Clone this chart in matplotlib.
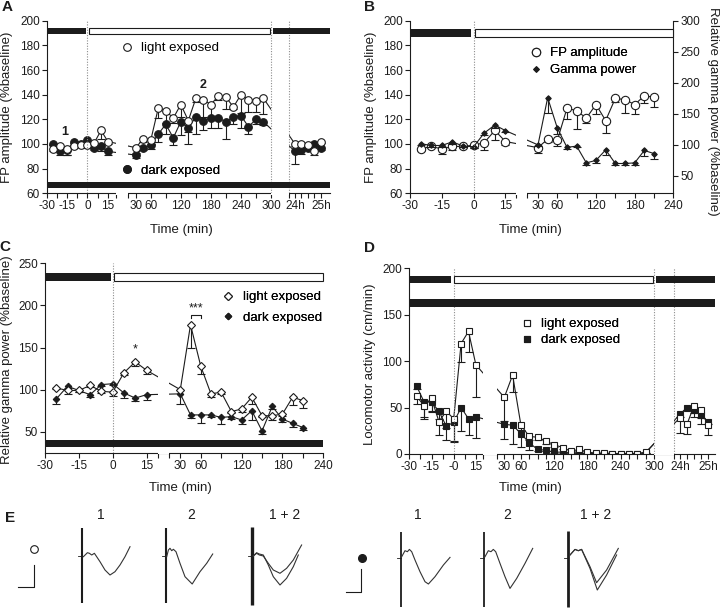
import matplotlib
matplotlib.use("Agg")
import matplotlib.pyplot as plt
import matplotlib.transforms as mtransforms
import numpy as np
from matplotlib.lines import Line2D
from matplotlib.patches import Rectangle

plt.rcParams["font.family"] = ["Liberation Sans", "DejaVu Sans"]

W, H = 720, 608
INK = "#1c1c1c"
GREY = "#8c8c8c"

# ---------------------------------------------------------------- data
# time in minutes, 24h / 25h written as 1440 / 1500
PRE_T = [-25, -20, -15, -10, -5, 0, 5, 10, 15]
POST_T = [30, 45, 60, 75, 90, 105, 120, 135, 150, 165, 180, 195, 210, 225, 240, 255, 270, 285]
POST_T_SHORT = [30, 45, 60, 75, 90, 105, 120, 135, 150, 165, 180, 195, 210]
DAY_T = [1440, 1455, 1470, 1485, 1500]

A_T = PRE_T + POST_T + DAY_T
A_LIGHT = [96, 98, 96, 98, 99, 99, 101, 111, 102,
           97, 104, 103, 129, 127, 121, 132, 119, 137, 136, 132, 139, 138, 130, 140, 136, 135, 137,
           100, 100, 99, 94, 102]
A_LIGHT_ERR = [2, 1, 5, 1, 1, 2, 2, 7, 2,
               4, 2, 3, 8, 10, 4, 10, 9, 3, 14, 10, 3, 10, 2, 15, 10, 9, 13,
               2, 2, 1, 3, 1]
A_DARK = [100, 94, 95, 102, 100, 103, 97, 98, 94,
          91, 97, 99, 108, 116, 105, 118, 113, 122, 119, 121, 121, 118, 122, 123, 114, 120, 118,
          94, 95, 97, 100, 97]
A_DARK_ERR = [1, 3, 4, 1, 1, 1, 2, 4, 3,
              2, 2, 3, 6, 8, 6, 11, 13, 14, 8, 8, 8, 14, 6, 10, 6, 4, 3,
              10, 3, 2, 1, 2]

B_T = PRE_T + POST_T_SHORT
B_FP = [96, 98, 96, 98, 98, 99, 101, 111, 102,
        97, 104, 103, 129, 127, 121, 132, 119, 137, 136, 132, 139, 138]
B_FP_ERR = [2, 1, 4, 3, 1, 2, 6, 8, 3,
            4, 2, 5, 9, 15, 4, 8, 10, 3, 11, 8, 6, 8]
B_GAMMA = [102, 99, 99, 105, 98, 97, 119, 132, 123,
           100, 176, 127, 96, 98, 71, 75, 92, 70, 70, 71, 91, 86]
B_GAMMA_ERR = [2, 2, 2, 3, 2, 2, 3, 5, 3,
               2, 25, 10, 3, 2, 3, 4, 8, 3, 3, 3, 9, 8]

C_T = PRE_T + POST_T_SHORT
C_LIGHT = [102, 99, 99, 105, 98, 97, 120, 133, 123,
           100, 177, 128, 95, 97, 74, 77, 91, 69, 69, 71, 91, 87]
C_LIGHT_ERR = [1, 4, 2, 2, 2, 5, 3, 5, 5,
               1, 27, 10, 4, 2, 2, 3, 8, 2, 5, 2, 9, 9]
C_DARK = [89, 104, 99, 94, 106, 107, 96, 90, 94,
          95, 70, 70, 70, 67, 68, 64, 75, 51, 80, 65, 60, 55]
C_DARK_ERR = [6, 2, 2, 3, 2, 2, 6, 4, 6,
              12, 4, 10, 3, 8, 3, 5, 11, 4, 3, 4, 4, 3]

D_T = PRE_T + POST_T + DAY_T
D_LIGHT = [62, 52, 60, 35, 46, 38, 119, 132, 96,
           61, 85, 31, 19, 18, 14, 10, 7, 3, 5, 2, 1, 1, 0.5, 0.5, 0.5, 0.5, 2,
           39, 32, 52, 47, 31]
D_LIGHT_ERR = [8, 14, 15, 14, 18, 25, 20, 22, 35,
               25, 18, 5, 4, 3, 3, 2, 2, 1, 2, 1, 1, 1, 0, 0, 0, 0, 1,
               16, 10, 12, 15, 11]
D_DARK = [73, 56, 56, 46, 30, 34, 50, 38, 40,
          32, 31, 22, 12, 5, 4, 2, 2, 1, 1, 0.5, 0.5, 0.5, 0.5, 0.5, 0.5, 0.5, 1,
          43, 50, 47, 42, 35]
D_DARK_ERR = [3, 16, 10, 8, 15, 20, 25, 17, 23,
              16, 20, 14, 8, 2, 1, 1, 1, 0, 0, 0, 0, 0, 0, 0, 0, 0, 0,
              3, 3, 3, 3, 3]

# example field-potential traces (offsets from stimulus, px-like units)
L1_X = [1.7, 5.7, 7.7, 10, 12.7, 18.3, 23.3, 28.3, 33.3, 38.3, 43.3, 48.3]
L1_Y = [0.7, -3.3, -2.7, -1, -2.7, 5.7, 14, 19, 15.7, 9, 0.7, -9.3]
L2_X = [1, 2.7, 4.3, 6, 7.7, 10.3, 14.3, 19.3, 26.5, 34.3, 41, 47]
L2_Y = [0.7, -6, -7.7, -5.3, -6.7, -4.3, 7.3, 20.7, 28, 15.7, 7.3, -2]
L12A_X = [1, 4.3, 7, 11, 16, 21, 27.7, 34.3, 41, 49.3]
L12A_Y = [0, -2.7, -1, 0, 7.3, 14, 17.3, 12.3, 4, -11]
L12B_X = [1, 4.3, 7, 11, 16, 21, 27.7, 34.3, 41, 46]
L12B_Y = [0, -3.3, -2, -1, 9, 20.7, 29, 22.3, 10.7, -1]
R1_X = [1, 4.3, 6.7, 8.7, 11, 14.3, 19.3, 24.3, 27.7, 34.3, 42.7, 49.3]
R1_Y = [-1, -7, -6, -8.3, -6, 2.3, 14, 24, 26.3, 19, 7.3, -0.3]
R2_X = [1, 4.3, 7, 9.3, 11.7, 16, 21, 26, 32.7, 41, 48.7]
R2_Y = [-1, -7, -6, -8.3, -6, 5.7, 19, 30.7, 20.7, 5.7, -9.3]
R12A_X = [1.7, 6.7, 10, 13.3, 21.7, 28.3, 38.3, 50]
R12A_Y = [-2.7, -8.3, -7, -8.3, 9, 25, 12.3, -9.3]
R12B_X = [1.7, 6.7, 10, 13.3, 21.7, 29, 38.3, 48.3]
R12B_Y = [-2.7, -8.3, -7, -8.3, 10.7, 32.3, 17.3, -2.7]

fig = plt.figure(figsize=(W / 100, H / 100), dpi=100)


def px_axes(x0, y0, x1, y1):
    return fig.add_axes([x0 / W, 1 - y1 / H, (x1 - x0) / W, (y1 - y0) / H])


def broken_x(ax, knots_t, knots_u):
    kt = np.asarray(knots_t, float)
    ku = np.asarray(knots_u, float)
    ax.set_xscale("function", functions=(lambda t: np.interp(t, kt, ku),
                                         lambda u: np.interp(u, ku, kt)))
    ax.set_xlim(kt[0], kt[-1])


def style(ax):
    ax.patch.set_visible(False)
    for side, spine in ax.spines.items():
        spine.set_visible(side in ("left", "bottom"))
        spine.set_color(INK)
        spine.set_linewidth(0.8)
    ax.tick_params(which="both", direction="out", length=3.5, width=0.8, color=INK,
                   labelsize=8.5, labelcolor=INK, pad=1.5)


def series(ax, t, y, err, marker, face, ms, z):
    t = np.asarray(t, float)
    y = np.asarray(y, float)
    err = np.asarray(err, float)
    ax.vlines(t, y - err, y, color=INK, lw=0.8, zorder=z - 0.2)
    ax.plot(t, y - err, ls="none", marker="_", ms=6, mew=0.8, color=INK, zorder=z - 0.2)
    ax.plot(t, y, color=INK, lw=0.8, marker=marker, ms=ms, mfc=face, mec=INK, mew=0.8, zorder=z)


def gap(ax, t0, t1):
    tr = mtransforms.blended_transform_factory(ax.transData, ax.transAxes)
    ax.add_patch(Rectangle((t0, -0.008), t1 - t0, 1.008, transform=tr, fc="white",
                           ec="none", zorder=3, clip_on=False))


def vdot(ax, t):
    ax.axvline(t, color=GREY, lw=0.8, ls=(0, (1, 1.4)), zorder=3.5)


def cond_bar(ax, t0, t1, y0, y1, dark, trim_l=0.0, trim_r=0.0, yax=None):
    yax = yax or ax
    xd = ax.transData.transform([(t0, 1.0), (t1, 1.0)])[:, 0]
    inv = ax.transData.inverted()
    ta = inv.transform((xd[0] + trim_l, 0))[0]
    tb = inv.transform((xd[1] - trim_r, 0))[0]
    tr = mtransforms.blended_transform_factory(ax.transData, yax.transData)
    ax.add_patch(Rectangle((ta, y0), tb - ta, y1 - y0, transform=tr,
                           fc=INK if dark else "white", ec=INK, lw=0 if dark else 0.8,
                           zorder=4, clip_on=False))


def legend_at(ax, handles, labels, x_px, y_px, spacing=0.4):
    leg = ax.legend(handles, labels, loc="center left",
                    bbox_to_anchor=(x_px / W, 1 - y_px / H), bbox_transform=fig.transFigure,
                    frameon=False, fontsize=9.5, handlelength=1.0, handletextpad=0.6,
                    borderpad=0, borderaxespad=0, labelspacing=spacing)
    ax.add_artist(leg)


def handle(marker, face, ms):
    return Line2D([], [], ls="none", marker=marker, ms=ms, mfc=face, mec=INK, mew=0.8)


def fig_text(x, y, s, **kw):
    fig.text(x / W, 1 - y / H, s, color=INK, **kw)


# ---------------------------------------------------------------- A
A_KT = [-30, 21, 21.01, 30, 300, 300.01, 1440, 1520]
A_KU = [46.7, 116, 128.2, 135.7, 271, 289.3, 295, 329.5]
axA = px_axes(A_KU[0], 20.7, A_KU[-1], 193.3)
broken_x(axA, A_KT, A_KU)
axA.set_ylim(60, 200)
style(axA)
axA.set_yticks(range(60, 201, 20))
axA.set_xticks([-30, -15, 0, 15, 30, 60, 120, 180, 240, 300, 1440, 1500],
               labels=["-30", "-15", "0", "15", "30", "60", "120", "180", "240", "300", "24h", "25h"])
axA.set_xticks([-22.5, -7.5, 7.5, 21, 21.01, 90, 150, 210, 270, 300.01, 1455, 1470, 1485], minor=True)
series(axA, A_T, A_DARK, A_DARK_ERR, "o", INK, 5.5, 2.0)
series(axA, A_T, A_LIGHT, A_LIGHT_ERR, "o", "white", 5.5, 2.2)
gap(axA, 21, 21.01)
gap(axA, 300, 300.01)
for t in (0, 300, 300.01):
    vdot(axA, t)
cond_bar(axA, -30, 0, 189, 194.3, True, trim_r=1.5)
cond_bar(axA, 0, 300, 189, 194.3, False, trim_l=1.5, trim_r=1.0)
cond_bar(axA, 300, 1520, 189, 194.3, True, trim_l=2.0)
cond_bar(axA, -30, 1520, 64, 69.4, True)
axA.text(-16.4, 110, "1", fontsize=9, fontweight="bold", ha="center", va="center", color=INK)
axA.text(164, 148, "2", fontsize=9, fontweight="bold", ha="center", va="center", color=INK)
legend_at(axA, [handle("o", "white", 5.5)], ["light exposed"], 120.1, 48.3)
legend_at(axA, [handle("o", INK, 5.5)], ["dark exposed"], 120.1, 170.7)
fig_text(7.5, 107, "FP amplitude (%baseline)", rotation=90, ha="center", va="center", fontsize=9.5)
fig_text(181.7, 230, "Time (min)", ha="center", va="center", fontsize=9.5)
fig_text(6.7, 6.7, "A", ha="center", va="center", fontsize=11, fontweight="bold")

# ---------------------------------------------------------------- B
B_KT = [-30, 20, 20.01, 30, 240]
B_KU = [410, 516, 526.7, 538, 673.3]
axB = px_axes(B_KU[0], 20.7, B_KU[-1], 193.3)
broken_x(axB, B_KT, B_KU)
axB.set_ylim(60, 200)
style(axB)
axB.set_yticks(range(60, 201, 20))
axB.set_xticks([-30, -15, 0, 15, 30, 60, 120, 180, 240],
               labels=["-30", "-15", "0", "15", "30", "60", "120", "180", "240"])
axB.set_xticks([20, 20.01, 90, 150, 210], minor=True)
axB2 = axB.twinx()
axB2.set_ylim(22, 300)
style(axB2)
axB2.spines["left"].set_visible(False)
axB2.spines["bottom"].set_visible(False)
axB2.spines["right"].set_visible(True)
axB2.set_yticks(range(50, 301, 50))
series(axB, B_T, B_FP, B_FP_ERR, "o", "white", 6.0, 2.2)
series(axB2, B_T, B_GAMMA, B_GAMMA_ERR, "D", INK, 2.8, 2.0)
gap(axB2, 20, 20.01)
vdot(axB2, 0)
cond_bar(axB2, -30, 0, 187, 193, True, trim_r=2.5, yax=axB)
cond_bar(axB2, 0, 240, 187, 193, False, trim_l=1.0, yax=axB)
legend_at(axB2, [handle("o", "white", 6.0), handle("D", INK, 2.8)],
          ["FP amplitude", "Gamma power"], 529.1, 61.7, spacing=0.36)
fig_text(371, 107, "FP amplitude (%baseline)", rotation=90, ha="center", va="center", fontsize=9.5)
fig_text(713, 111.7, "Relative gamma power (%baseline)", rotation=270, ha="center", va="center", fontsize=9.5)
fig_text(530, 230, "Time (min)", ha="center", va="center", fontsize=9.5)
fig_text(370, 6.7, "B", ha="center", va="center", fontsize=11, fontweight="bold")

# ---------------------------------------------------------------- C
C_KT = [-30, 20, 20.01, 30, 240]
C_KU = [45, 157.8, 169.3, 180.3, 323.3]
axC = px_axes(C_KU[0], 263.3, C_KU[-1], 452.8)
broken_x(axC, C_KT, C_KU)
axC.set_ylim(25, 250)
style(axC)
axC.set_yticks(range(50, 251, 50))
axC.set_xticks([-30, -15, 0, 15, 30, 60, 120, 180, 240],
               labels=["-30", "-15", "0", "15", "30", "60", "120", "180", "240"])
axC.set_xticks([20, 20.01, 90, 150, 210], minor=True)
series(axC, C_T, C_DARK, C_DARK_ERR, "D", INK, 3.3, 2.0)
series(axC, C_T, C_LIGHT, C_LIGHT_ERR, "D", "white", 3.7, 2.2)
gap(axC, 20, 20.01)
vdot(axC, 0)
cond_bar(axC, -30, 0, 229, 238, True, trim_r=1.7)
cond_bar(axC, 0, 240, 229, 238, False, trim_l=1.6, trim_r=-0.7)
cond_bar(axC, -30, 240, 32, 40, True, trim_r=-1.7)
axC.text(10, 148, "*", fontsize=9, ha="center", va="center", color=INK)
axC.text(52.5, 196, "***", fontsize=9, ha="center", va="center", color=INK)
axC.plot([45, 45, 60, 60], [185.5, 189, 189, 185.5], color=INK, lw=0.8, zorder=4)
legend_at(axC, [handle("D", "white", 3.7), handle("D", INK, 3.3)],
          ["light exposed", "dark exposed"], 221.7, 307.4, spacing=0.6)
fig_text(6.7, 360, "Relative gamma power (%baseline)", rotation=90, ha="center", va="center", fontsize=9.5)
fig_text(180, 488, "Time (min)", ha="center", va="center", fontsize=9.5)
fig_text(5, 246.7, "C", ha="center", va="center", fontsize=11, fontweight="bold")

# ---------------------------------------------------------------- D
D_KT = [-30, 20, 20.01, 30, 300, 300.01, 1440, 1515]
D_KU = [409.3, 483.3, 496.7, 504.3, 654, 674, 680, 715]
axD = px_axes(D_KU[0], 268.3, D_KU[-1], 454)
broken_x(axD, D_KT, D_KU)
axD.set_ylim(0, 200)
style(axD)
axD.set_yticks(range(0, 201, 50))
axD.set_xticks([-30, -15, 0, 15, 30, 60, 120, 180, 240, 300, 1440, 1500],
               labels=["-30", "-15", "-0", "15", "30", "60", "120", "180", "240", "300", "24h", "25h"])
axD.set_xticks([-22.5, -7.5, 7.5, 20, 20.01, 45, 75, 90, 105, 135, 150, 165, 195, 210, 225,
                255, 270, 285, 300.01, 1455, 1470, 1485], minor=True)
series(axD, D_T, D_DARK, D_DARK_ERR, "s", INK, 4.2, 2.0)
series(axD, D_T, D_LIGHT, D_LIGHT_ERR, "s", "white", 4.6, 2.2)
gap(axD, 20, 20.01)
gap(axD, 300, 300.01)
for t in (0, 300, 300.01):
    vdot(axD, t)
cond_bar(axD, -30, 0, 183.8, 191.7, True, trim_r=2.3)
cond_bar(axD, 0, 300, 183.8, 191.7, False, trim_l=0.3, trim_r=1.3)
cond_bar(axD, 300, 1515, 183.8, 191.7, True, trim_l=2.0)
cond_bar(axD, -30, 1515, 158.4, 166.4, True)
legend_at(axD, [handle("s", "white", 4.6), handle("s", INK, 4.2)],
          ["light exposed", "dark exposed"], 520.1, 332.2, spacing=0.29)
fig_text(370, 364, "Locomotor activity (cm/min)", rotation=90, ha="center", va="center", fontsize=9.5)
fig_text(530, 488, "Time (min)", ha="center", va="center", fontsize=9.5)
fig_text(370, 248.3, "D", ha="center", va="center", fontsize=11, fontweight="bold")

# ---------------------------------------------------------------- E
axE = px_axes(0, 500, 720, 608)
axE.set_xlim(0, 720)
axE.set_ylim(608, 500)
axE.axis("off")

E_ORIGIN_X = [81.7, 165.7, 252.3, 400.7, 484, 568.3]
E_ORIGIN_Y = [556, 556, 556, 557.7, 557.7, 557.7]
E_ART_TOP = [-27.7, -27.7, -29, -25.7, -25.7, -27]
E_ART_BOT = [47, 47, 49, 49.3, 49.3, 49.3]
E_ART_LW = [1.5, 1.5, 2.4, 1.3, 1.3, 2.0]
E_WAVES = [[(L1_X, L1_Y)], [(L2_X, L2_Y)], [(L12A_X, L12A_Y), (L12B_X, L12B_Y)],
           [(R1_X, R1_Y)], [(R2_X, R2_Y)], [(R12A_X, R12A_Y), (R12B_X, R12B_Y)]]

for x0, y0, top, bot, lw, waves in zip(E_ORIGIN_X, E_ORIGIN_Y, E_ART_TOP, E_ART_BOT, E_ART_LW, E_WAVES):
    axE.plot([x0, x0], [y0 + top, y0 + bot], color=INK, lw=lw, solid_capstyle="butt")
    axE.plot([x0 - 4, x0], [y0, y0], color=INK, lw=0.6)
    for wx, wy in waves:
        axE.plot(x0 + np.asarray(wx), y0 + np.asarray(wy), color="#333333", lw=0.8)

E_TITLE_X = [101, 191, 285, 418, 507, 596]
E_TITLE = ["1", "2", "1 + 2", "1", "2", "1 + 2"]
for x, s in zip(E_TITLE_X, E_TITLE):
    axE.text(x, 515, s, fontsize=10, ha="center", va="center", color=INK)

axE.plot([33.7], [549.3], marker="o", ms=5.5, mfc="white", mec=INK, mew=0.8)
axE.plot([362], [558.3], marker="o", ms=5.5, mfc=INK, mec=INK)
axE.plot([17.5, 33.7, 33.7], [587, 587, 565], color=INK, lw=0.8)
axE.plot([346, 361.3, 361.3], [592.3, 592.3, 569.3], color=INK, lw=0.8)
fig_text(10, 518, "E", ha="center", va="center", fontsize=11, fontweight="bold")

fig.savefig("out.png", dpi=100)
